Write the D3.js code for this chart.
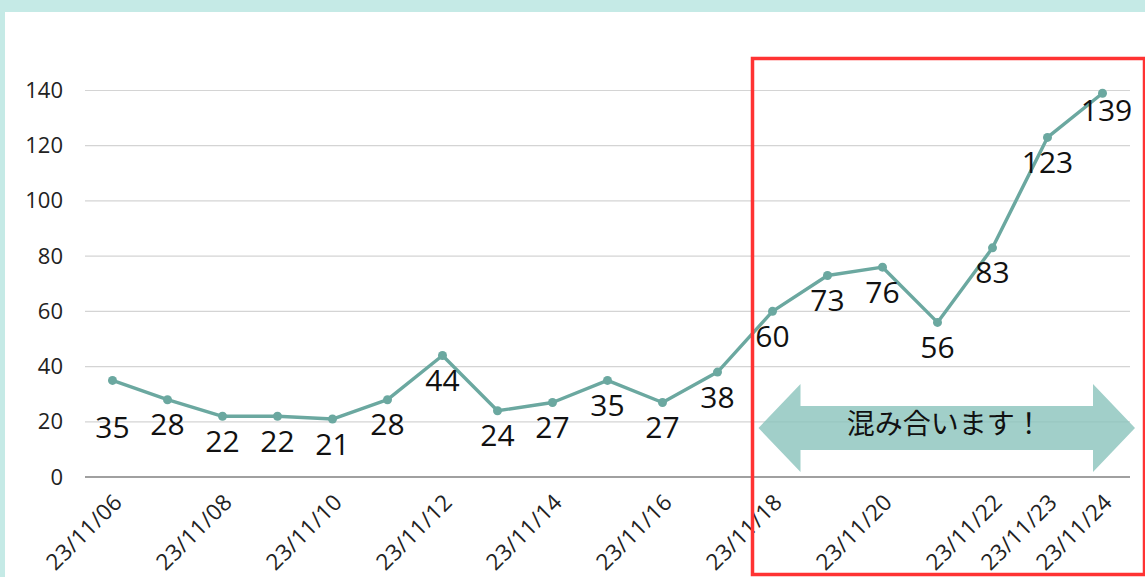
<!DOCTYPE html>
<html>
<head>
<meta charset="utf-8">
<script src="https://cdn.jsdelivr.net/npm/d3@7"></script>
<style>
  html, body { margin: 0; padding: 0; background: #c5eae6; }
  svg { display: block; }
</style>
</head>
<body>
<svg id="chart" width="1145" height="577"></svg>
<script>
const categories = ["23/11/06","23/11/07","23/11/08","23/11/09","23/11/10","23/11/11","23/11/12","23/11/13","23/11/14","23/11/15","23/11/16","23/11/17","23/11/18","23/11/19","23/11/20","23/11/21","23/11/22","23/11/23","23/11/24"];
const values = [35,28,22,22,21,28,44,24,27,35,27,38,60,73,76,56,83,123,139];
const shownTickLabels = ["23/11/06","23/11/08","23/11/10","23/11/12","23/11/14","23/11/16","23/11/18","23/11/20","23/11/22","23/11/23","23/11/24"];
const yTicks = [0,20,40,60,80,100,120,140];
const calloutText = "混み合います！";
const highlightRange = ["23/11/18","23/11/24"];

const font = "'Open Sans', 'Noto Sans', 'Noto Sans CJK JP', sans-serif";
const svg = d3.select("#chart");
const W = 1145, H = 577;

// white panel with teal frame
svg.append("rect").attr("x", 5).attr("y", 12).attr("width", W - 5).attr("height", H - 12).attr("fill", "#ffffff");

const margin = {left: 85, right: 15};
const x = d3.scalePoint().domain(categories).range([margin.left, W - margin.right]).padding(0.5);
const y = d3.scaleLinear().domain([0, 140]).range([477, 90.5]);

// gridlines
svg.append("g").selectAll("line").data(yTicks.filter(d => d > 0)).join("line")
  .attr("x1", margin.left).attr("x2", W - margin.right)
  .attr("y1", d => y(d)).attr("y2", d => y(d))
  .attr("stroke", "#d4d4d4").attr("stroke-width", 1.2);

// y axis labels
const yAxis = d3.axisLeft(y).tickValues(yTicks).tickSize(0).tickPadding(22);
const yg = svg.append("g").attr("transform", `translate(${margin.left},0)`).call(yAxis);
yg.select(".domain").remove();
yg.selectAll("text").attr("font-family", font).attr("font-size", 22).attr("fill", "#222");

// x axis baseline
svg.append("line").attr("x1", margin.left).attr("x2", W - margin.right)
  .attr("y1", y(0)).attr("y2", y(0)).attr("stroke", "#808080").attr("stroke-width", 1.5);

// x axis labels
const xAxis = d3.axisBottom(x).tickValues(shownTickLabels).tickSize(0).tickPadding(0);
const xg = svg.append("g").attr("transform", `translate(0,${y(0)})`).call(xAxis);
xg.select(".domain").remove();
xg.selectAll("text")
  .attr("font-family", font).attr("font-size", 22.5).attr("fill", "#222")
  .attr("letter-spacing", "0.3px")
  .attr("text-anchor", "end")
  .attr("dy", "0.35em").attr("y", 0)
  .attr("transform", "translate(5,21) rotate(-45)");

// line
const lineColor = "#6ba8a0";
svg.append("path").datum(values)
  .attr("fill", "none").attr("stroke", lineColor).attr("stroke-width", 3.4)
  .attr("stroke-linejoin", "round")
  .attr("d", d3.line().x((d, i) => x(categories[i])).y(d => y(d)));

svg.append("g").selectAll("circle").data(values).join("circle")
  .attr("cx", (d, i) => x(categories[i])).attr("cy", d => y(d)).attr("r", 4.5)
  .attr("fill", lineColor);

// data labels
const labelDy = i => (i === 0 ? 47 : (i === values.length - 1 ? 17 : 25));
const labelDx = i => (i === values.length - 1 ? 4 : 0);
svg.append("g").selectAll("text").data(values).join("text")
  .attr("x", (d, i) => x(categories[i]) + labelDx(i))
  .attr("y", (d, i) => y(d) + labelDy(i))
  .attr("dy", "0.35em")
  .attr("text-anchor", "middle")
  .attr("font-family", font).attr("font-size", 30).attr("fill", "#111")
  .text(d => d);

// callout arrow
const ax1 = x(highlightRange[0]) - 14, ax2 = W - 10;
const cy = 428, headW = 42, headH = 44, shaftH = 22;
const arrowPts = [
  [ax1, cy], [ax1 + headW, cy - headH], [ax1 + headW, cy - shaftH],
  [ax2 - headW, cy - shaftH], [ax2 - headW, cy - headH], [ax2, cy],
  [ax2 - headW, cy + headH], [ax2 - headW, cy + shaftH],
  [ax1 + headW, cy + shaftH], [ax1 + headW, cy + headH]
];
svg.append("path").attr("d", d3.line()(arrowPts) + "Z")
  .attr("fill", "#8cc4bd").attr("fill-opacity", 0.82);
svg.append("text").attr("x", (ax1 + ax2) / 2 - 2).attr("y", cy - 4).attr("dy", "0.35em")
  .attr("text-anchor", "middle").attr("font-family", "'Noto Sans CJK JP', sans-serif")
  .attr("font-size", 28).attr("fill", "#111").text(calloutText);

// red highlight box
svg.append("rect").attr("x", 752.5).attr("y", 58.5).attr("width", 392).attr("height", 516)
  .attr("fill", "none").attr("stroke", "#ff3333").attr("stroke-width", 3.5);
</script>
</body>
</html>
